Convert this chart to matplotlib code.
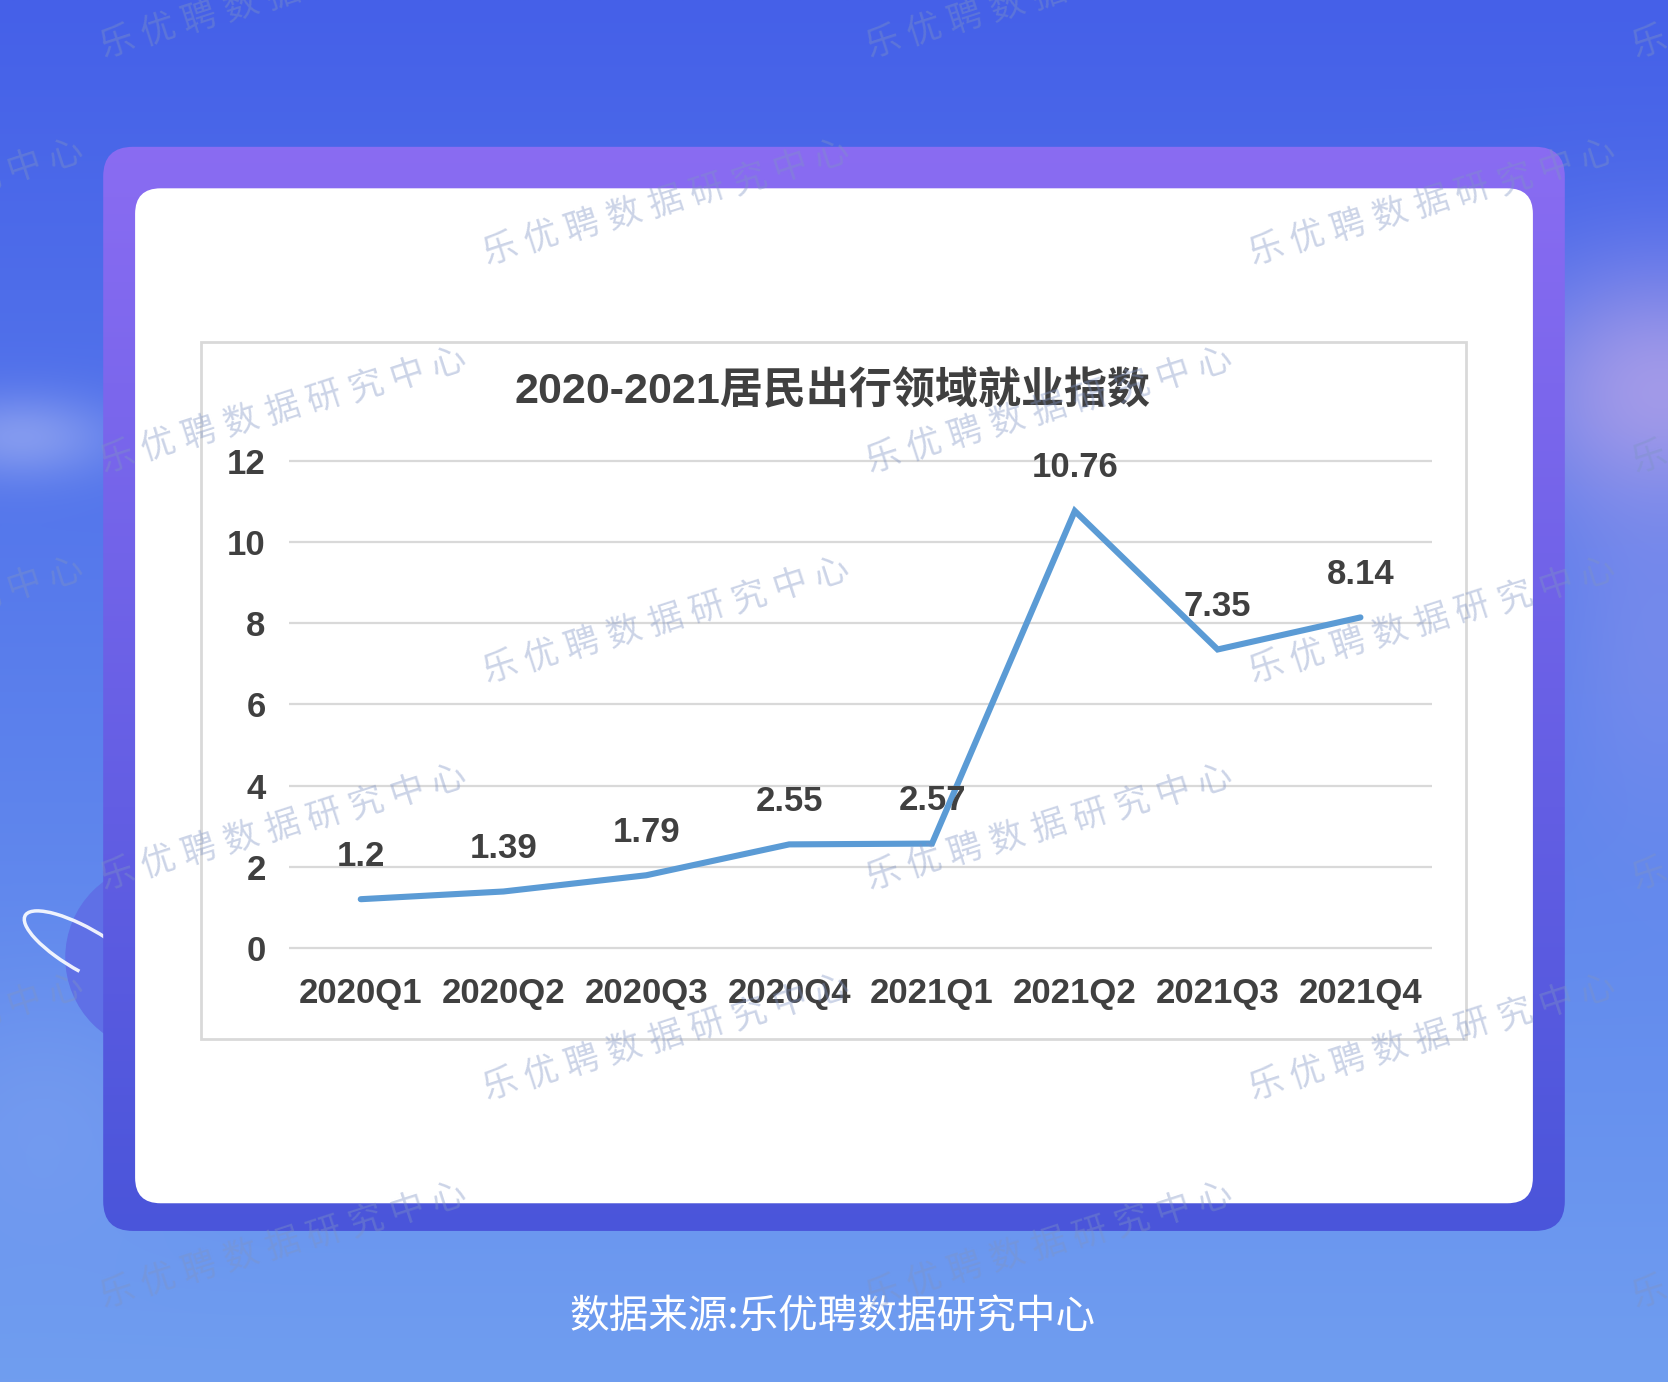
import numpy as np
import matplotlib
matplotlib.use("Agg")
import matplotlib.pyplot as plt
from matplotlib.patches import FancyBboxPatch, Rectangle, Circle, Arc

# data
quarters = ['2020Q1', '2020Q2', '2020Q3', '2020Q4', '2021Q1', '2021Q2', '2021Q3', '2021Q4']
index_vals = [1.2, 1.39, 1.79, 2.55, 2.57, 10.76, 7.35, 8.14]
y_ticks = [0, 2, 4, 6, 8, 10, 12]

title = '2020-2021居民出行领域就业指数'
source = '数据来源:乐优聘数据研究中心'
watermark = '乐优聘数据研究中心'

LATIN = ['Liberation Sans', 'Noto Sans CJK SC']
CJK = ['Noto Sans CJK SC', 'DejaVu Sans']
plt.rcParams['font.family'] = CJK

W, H = 1568, 1299   # layout units (scaled to the figure)
fig = plt.figure(figsize=(16.68, 13.82), dpi=100)

# background layer
bg = fig.add_axes([0, 0, 1, 1], zorder=0)
bg.set_xlim(0, W)
bg.set_ylim(H, 0)
bg.axis('off')

yy, xx = np.mgrid[0:H, 0:W].astype(float)
t = yy / H
top = np.array([69, 96, 232]) / 255
bot = np.array([112, 158, 240]) / 255
img = top[None, None, :] * (1 - t[..., None]) + bot[None, None, :] * t[..., None]

def blob(cx, cy, sx, sy, color, k):
    g = np.exp(-(((xx - cx) / sx) ** 2 + ((yy - cy) / sy) ** 2)) * k
    c = np.array(color) / 255
    return g[..., None], c

for cx, cy, sx, sy, col, k in [
    (1560, 370, 140, 120, (168, 156, 232), 0.95),
    (1560, 600, 110, 180, (140, 150, 236), 0.5),
    (20, 410, 90, 40, (190, 200, 245), 0.45),
    (40, 1050, 120, 120, (130, 165, 240), 0.4),
]:
    g, c = blob(cx, cy, sx, sy, col, k)
    img = img * (1 - g) + c[None, None, :] * g
bg.imshow(img, extent=(0, W, H, 0), aspect='auto', zorder=0)

# planet on the left
bg.add_patch(Circle((150, 900), 88, color='#5f70e6', zorder=1))
bg.add_patch(Arc((80, 893), 130, 40, angle=30, theta1=75, theta2=300,
                 color='white', lw=2.5, alpha=0.9, zorder=2))

# purple card with gradient
card = FancyBboxPatch((97, 138), 1374, 1019,
                      boxstyle='round,pad=0,rounding_size=28',
                      facecolor='none', edgecolor='none', zorder=3)
bg.add_patch(card)
ct = np.linspace(0, 1, 256)[:, None]
ctop = np.array([138, 108, 242]) / 255
cbot = np.array([74, 85, 218]) / 255
cimg = ctop[None, None, :] * (1 - ct[..., None]) + cbot[None, None, :] * ct[..., None]
cimg = np.repeat(cimg, 4, axis=1)
im = bg.imshow(cimg, extent=(97, 1471, 1157, 138), aspect='auto', zorder=3)
im.set_clip_path(card)

bg.add_patch(FancyBboxPatch((127, 177), 1314, 954,
                            boxstyle='round,pad=0,rounding_size=24',
                            facecolor='white', edgecolor='none', zorder=4))
bg.add_patch(Rectangle((189, 321), 1189, 656, fill=False,
                       edgecolor='#d9d9d9', lw=2, zorder=5))

bg.text(783, 368, title, ha='center', va='center', fontsize=31,
        fontweight='bold', color='#404040', family=LATIN, zorder=6)
bg.text(783, 1238, source, ha='center', va='center', fontsize=28.5,
        color='white', family=CJK, zorder=6)

# chart
ax = fig.add_axes([272 / W, 1 - 891 / H, (1346 - 272) / W, (891 - 433) / H], zorder=1)
ax.patch.set_alpha(0)
x = np.arange(len(quarters))
ax.set_xlim(-0.5, len(quarters) - 0.5)
ax.set_ylim(0, 12)
for s in ax.spines.values():
    s.set_visible(False)
ax.hlines(y_ticks, -0.5, len(quarters) - 0.5, color='#d9d9d9', lw=1.6,
          clip_on=False, zorder=1)
ax.plot(x, index_vals, color='#5b9bd5', lw=4.4, solid_capstyle='round',
        solid_joinstyle='miter', zorder=3, clip_on=False)
for xi, v in zip(x, index_vals):
    ax.annotate(str(v), (xi, v), xytext=(0, 31), textcoords='offset points',
                ha='center', va='center', fontsize=25, fontweight='bold',
                color='#404040', family=LATIN, zorder=4)
ax.set_xticks(x)
ax.set_xticklabels(quarters)
ax.set_yticks(y_ticks)
ax.tick_params(length=0, labelsize=25, labelcolor='#404040')
ax.tick_params(axis='y', pad=17)
ax.tick_params(axis='x', pad=21)
for lab in ax.get_xticklabels() + ax.get_yticklabels():
    lab.set_fontweight('bold')
    lab.set_family(LATIN)

# watermark overlay
ov = fig.add_axes([0, 0, 1, 1], zorder=2)
ov.set_xlim(0, W)
ov.set_ylim(H, 0)
ov.axis('off')
ang = np.deg2rad(16)
step = 40.5
rows = [(40, 110), (235, 470), (430, 110), (628, 470), (822, 110), (1020, 470), (1215, 110)]
for ry, rx in rows:
    for sx in (rx - 720, rx, rx + 720, rx + 1440):
        for k, ch in enumerate(watermark):
            cx = sx + k * step * np.cos(ang)
            cy = ry - k * step * np.sin(ang)
            if -40 < cx < W + 40 and -40 < cy < H + 40:
                ov.text(cx, cy, ch, ha='center', va='center', fontsize=25,
                        fontweight='light', rotation=18, color='#7f93c4',
                        alpha=0.4, family=CJK)

fig.savefig('out.png', dpi=100)
